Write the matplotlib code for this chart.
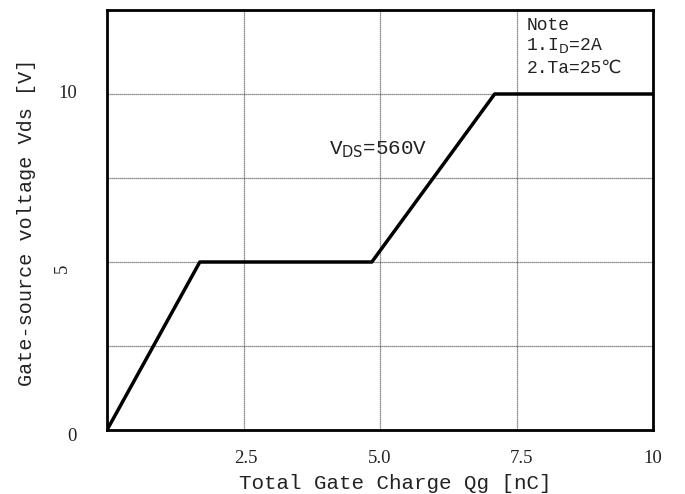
import matplotlib
matplotlib.use("Agg")
import matplotlib.pyplot as plt
from matplotlib.transforms import blended_transform_factory

# Data
qg = [0.0, 1.7, 4.85, 7.1, 10.0]
vgs = [0.0, 5.0, 5.0, 10.0, 10.0]
x_ticks = [2.5, 5.0, 7.5, 10]
x_tick_labels = ["2.5", "5.0", "7.5", "10"]
y_ticks = [0, 5, 10]
y_tick_labels = ["0", "5", "10"]

fam = ["Liberation Serif", "DejaVu Serif"]
mono = ["Liberation Mono", "DejaVu Sans Mono"]
tc = "#222222"

fig = plt.figure(figsize=(6.85, 4.94), dpi=100)
ax = fig.add_axes([107/685, 1-430/494, (653-107)/685, (430-10)/494])
ax.set_xlim(0, 10)
ax.set_ylim(0, 12.5)

ax.set_xticks([0, 2.5, 5, 7.5, 10])
ax.set_yticks([0, 2.5, 5, 7.5, 10, 12.5])
ax.tick_params(length=0, labelbottom=False, labelleft=False)
ax.grid(True, color="#666666", linewidth=0.9, linestyle=(0, (1, 0.6)))
for s in ax.spines.values():
    s.set_linewidth(2)
    s.set_color("black")

ax.plot(qg, vgs, color="black", linewidth=2.5, solid_capstyle="butt")

# x tick labels (data x, figure y)
xtrans = blended_transform_factory(ax.transData, fig.transFigure)
x_off = {"2.5": 0.05, "5.0": 0.0, "7.5": 0.1, "10": 0.0}
for xv, lab in zip(x_ticks, x_tick_labels):
    ax.text(xv + x_off[lab], 1 - 458/494, lab, transform=xtrans,
            ha="center", va="center", fontsize=13.5, family=fam, color=tc)

# y tick labels
for yv, lab in zip(y_ticks, y_tick_labels):
    if lab == "5":
        fig.text(62/685, 1-268/494, lab, ha="center", va="center", fontsize=13.5,
                 family=fam, color=tc, rotation=90)
    else:
        ax.text(-30/546*10, yv - (0.2 if yv == 0 else 0), lab, ha="right", va="center",
                fontsize=13.5, family=fam, color=tc)

fig.text(395/685, 1-483/494, "Total Gate Charge Qg [nC]", ha="center", va="center",
         fontsize=15, family=mono, color=tc)
fig.text(27/685, 1-222/494, "Gate-source voltage Vds [V]", ha="center", va="center",
         rotation=90, fontsize=14.5, family=mono, color=tc)

ax.text(4.96, 8.33, r"V$_{\rm DS}$=560V", ha="center", va="center", fontsize=15,
        family=mono, color=tc)

ax.text(7.68, 12.05, "Note", ha="left", va="center", fontsize=13, family=mono, color=tc)
ax.text(7.68, 11.45, r"1.I$_{\rm D}$=2A", ha="left", va="center", fontsize=13, family=mono, color=tc)
ax.text(7.68, 10.78, "2.Ta=25\u2103", ha="left", va="center", fontsize=13,
        family=["Liberation Mono", "DejaVu Sans"], color=tc)

fig.savefig("out.png", dpi=100, facecolor="white")
